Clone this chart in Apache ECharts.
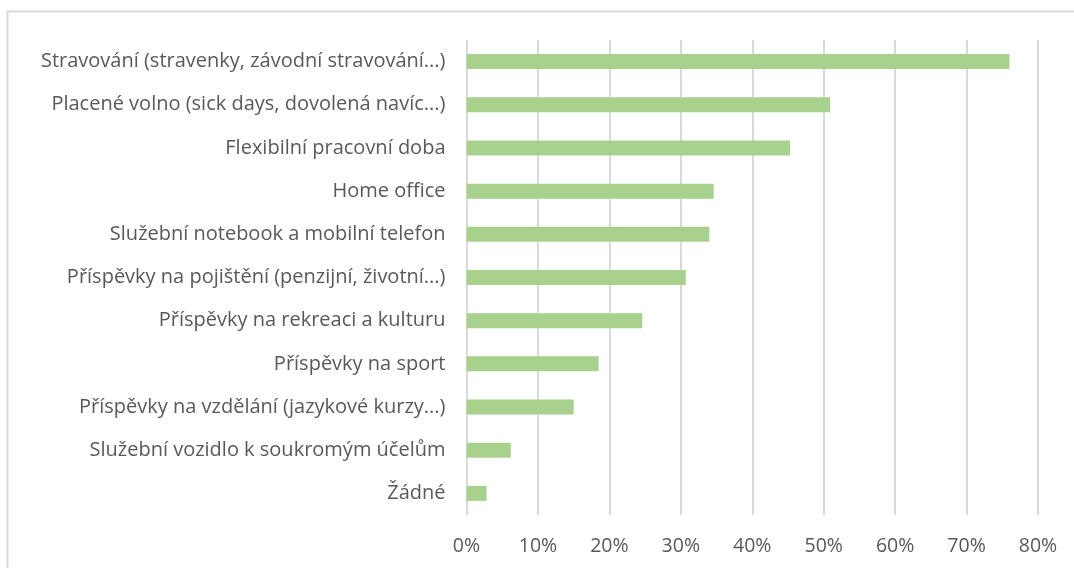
<!DOCTYPE html>
<html>
<head>
<meta charset="utf-8">
<script src="https://cdn.jsdelivr.net/npm/echarts@6/dist/echarts.min.js"></script>
<style>
  html, body { margin: 0; padding: 0; background: #fff; }
  #chart { width: 1074px; height: 568px; }
</style>
</head>
<body>
<div id="chart"></div>
<script>
// benefit categories, top to bottom
const categories = [
  "Stravování (stravenky, závodní stravování...)",
  "Placené volno (sick days, dovolená navíc...)",
  "Flexibilní pracovní doba",
  "Home office",
  "Služební notebook a mobilní telefon",
  "Příspěvky na pojištění (penzijní, životní...)",
  "Příspěvky na rekreaci a kulturu",
  "Příspěvky na sport",
  "Příspěvky na vzdělání (jazykové kurzy...)",
  "Služební vozidlo k soukromým účelům",
  "Žádné"
];
// share of respondents, %
const values = [76, 50.9, 45.3, 34.6, 34.0, 30.7, 24.6, 18.5, 15.0, 6.2, 2.8];
const xTicks = { min: 0, max: 80, step: 10 };

const chart = echarts.init(document.getElementById("chart"));
chart.setOption({
  animation: false,
  textStyle: { fontFamily: "Open Sans" },
  graphic: [
    {
      type: "rect",
      shape: { x: 7.5, y: 11.5, width: 1200, height: 700 },
      style: { fill: "none", stroke: "#d9d9d9", lineWidth: 2 },
      silent: true
    }
  ],
  grid: {
    left: 466.5,
    right: 36,
    top: 40,
    bottom: 53,
    containLabel: false
  },
  xAxis: {
    type: "value",
    min: xTicks.min,
    max: xTicks.max,
    interval: xTicks.step,
    axisLine: { show: false },
    axisTick: { show: false },
    axisLabel: {
      formatter: "{value}%",
      color: "#595959",
      fontSize: 19.5,
      margin: 21
    },
    splitLine: {
      show: true,
      lineStyle: { color: "#d9d9d9", width: 2 }
    }
  },
  yAxis: {
    type: "category",
    inverse: true,
    data: categories,
    axisLine: { show: false },
    axisTick: { show: false },
    axisLabel: {
      color: "#595959",
      fontSize: 20,
      margin: 21
    }
  },
  series: [
    {
      type: "bar",
      data: values,
      barWidth: 15,
      itemStyle: { color: "#a9d18e" }
    }
  ]
});
</script>
</body>
</html>
